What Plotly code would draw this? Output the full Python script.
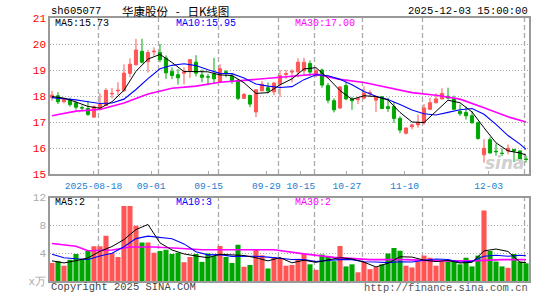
import plotly.graph_objects as go

# ---------------- data ----------------
dates = ["2025-08-06","2025-08-07","2025-08-08","2025-08-11","2025-08-12","2025-08-13","2025-08-14","2025-08-15",
         "2025-08-18","2025-08-19","2025-08-20","2025-08-21","2025-08-22","2025-08-25","2025-08-26","2025-08-27","2025-08-28","2025-08-29",
         "2025-09-01","2025-09-02","2025-09-03","2025-09-04","2025-09-05","2025-09-08","2025-09-09","2025-09-10","2025-09-11","2025-09-12",
         "2025-09-15","2025-09-16","2025-09-17","2025-09-18","2025-09-19","2025-09-22","2025-09-23","2025-09-24","2025-09-25","2025-09-26",
         "2025-09-29","2025-09-30","2025-10-09","2025-10-10","2025-10-13","2025-10-14",
         "2025-10-15","2025-10-16","2025-10-17","2025-10-20","2025-10-21","2025-10-22","2025-10-23","2025-10-24",
         "2025-10-27","2025-10-28","2025-10-29","2025-10-30","2025-10-31","2025-11-03","2025-11-04","2025-11-05","2025-11-06","2025-11-07",
         "2025-11-10","2025-11-11","2025-11-12","2025-11-13","2025-11-14","2025-11-17","2025-11-18","2025-11-19","2025-11-20","2025-11-21",
         "2025-11-24","2025-11-25","2025-11-26","2025-11-27","2025-11-28","2025-12-01","2025-12-02","2025-12-03"]

opens = [17.94,18.01,17.78,17.84,17.74,17.55,17.52,17.19,17.54,17.64,
         18.08,18.20,18.20,18.87,19.20,19.72,19.32,19.70,19.67,19.46,
         18.94,18.82,18.88,18.97,19.30,18.81,18.74,18.85,18.53,18.93,
         18.77,18.60,17.91,18.02,17.39,18.20,18.32,18.16,18.47,18.83,
         18.92,18.93,18.97,19.25,18.78,19.00,18.40,17.82,17.54,18.40,
         17.89,17.86,17.92,18.10,17.84,17.97,17.59,17.59,17.14,16.57,
         16.82,16.89,16.97,17.49,17.74,17.89,17.99,17.89,17.41,17.37,
         17.24,16.97,15.74,16.32,15.88,15.80,15.89,15.94,15.89,15.58]
highs = [18.20,18.15,17.92,17.94,17.79,17.64,17.82,17.64,18.10,18.30,
         18.31,18.53,19.22,19.45,20.20,20.20,19.77,19.87,20.00,19.56,
         19.10,19.04,19.10,19.42,19.57,19.02,18.85,19.47,19.22,19.00,
         18.85,18.66,18.12,18.05,18.26,18.57,18.52,18.52,19.00,19.00,
         19.03,19.45,19.47,19.37,19.03,19.05,18.50,17.91,18.37,18.53,
         17.97,17.97,18.37,18.22,18.02,18.00,17.94,17.78,17.22,16.79,
         16.94,17.28,17.69,17.94,18.10,18.30,18.32,18.02,17.67,17.59,
         17.42,17.02,16.34,16.42,16.17,15.99,16.14,15.97,15.91,15.71]
lows = [17.82,17.69,17.72,17.59,17.47,17.47,17.24,17.16,17.49,17.62,
        17.91,18.03,18.17,18.72,19.18,19.25,18.90,19.55,19.30,18.66,
        18.65,18.44,18.45,18.70,18.75,18.53,18.41,18.47,18.50,18.72,
        18.47,17.84,17.90,17.57,17.19,18.18,18.10,18.03,17.97,18.66,
        18.53,18.72,18.82,18.77,18.72,18.32,17.72,17.37,17.50,17.84,
        17.47,17.69,17.87,17.97,17.39,17.50,17.39,16.97,16.57,16.52,
        16.72,16.78,16.90,17.47,17.72,17.87,17.87,17.47,17.24,17.09,
        16.94,16.32,15.44,15.79,15.71,15.69,15.76,15.46,15.46,15.44]
closes = [18.03,17.78,17.87,17.67,17.57,17.54,17.29,17.59,17.69,18.22,
          18.10,18.22,18.88,19.22,19.77,19.30,19.67,19.72,19.40,18.89,
          18.79,18.70,18.92,19.40,18.88,18.72,18.73,18.66,19.05,18.91,
          18.60,17.91,18.06,17.69,18.24,18.45,18.20,18.50,18.78,18.86,
          18.94,19.30,19.30,18.92,18.97,18.42,17.84,17.47,18.35,17.89,
          17.82,17.89,18.10,18.12,17.97,17.52,17.52,17.14,16.69,16.77,
          16.89,16.99,17.54,17.74,17.89,18.10,17.92,17.49,17.32,17.24,
          16.97,16.37,15.99,15.81,15.86,15.79,15.99,15.89,15.54,15.56]
volumes = [2.6,2.85,2.2,3.05,3.9,3.15,4.3,5.0,5.0,6.5,
           4.0,3.45,10.8,10.8,7.95,5.55,5.55,4.05,4.3,4.5,
           3.9,4.05,2.7,3.45,3.9,2.75,3.95,3.6,5.05,3.45,
           2.6,5.2,2.05,2.3,4.6,3.7,1.8,3.45,3.3,2.2,
           2.3,3.2,3.95,2.4,1.6,3.8,3.45,2.85,5.05,2.1,
           2.4,1.25,2.75,1.7,2.0,2.4,3.95,4.75,4.35,2.2,
           1.95,2.85,3.65,3.35,2.2,2.75,2.8,2.8,2.4,3.35,
           2.1,3.65,10.15,4.3,2.8,2.1,1.9,3.9,2.8,2.55]

ma_idx = [0,2,4,6,8,10,12,14,16,18,20,22,24,26,28,30,32,34,36,38,
          40,42,44,46,48,50,52,54,56,58,60,62,64,66,68,70,72,74,76,78,79]
price_ma5 = [17.98,17.92,17.77,17.60,17.53,17.78,18.22,18.95,19.42,19.60,
             19.29,18.94,18.94,18.93,18.81,18.79,18.51,18.10,18.13,18.43,
             18.66,19.04,19.09,18.69,18.21,17.87,18.01,17.98,17.85,17.37,
             17.00,16.98,17.41,17.84,17.74,17.39,16.78,16.20,15.89,15.81,15.73]
price_ma10 = [17.94,17.90,17.85,17.78,17.71,17.73,17.88,18.25,18.67,19.05,
              19.18,19.24,19.17,19.01,18.87,18.86,18.69,18.46,18.38,18.33,
              18.36,18.63,18.82,18.78,18.64,18.43,18.17,17.99,17.87,17.67,
              17.46,17.32,17.27,17.37,17.47,17.52,17.30,16.91,16.48,16.15,15.95]
ma30_idx = [0,4,8,12,16,20,24,28,32,36,40,44,48,52,56,60,64,68,72,76,79]
price_ma30 = [17.24,17.42,17.48,17.73,18.08,18.30,18.38,18.53,18.60,18.69,
              18.76,18.84,18.64,18.52,18.33,18.13,18.03,17.88,17.55,17.20,17.00]
vol_ma5 = [2.9,2.6,2.92,3.32,4.27,4.96,5.95,7.4,8.13,5.48,
           4.46,3.89,3.6,3.35,3.85,3.73,3.67,3.35,2.89,3.37,
           2.61,2.99,2.69,3.04,3.35,3.17,2.71,2.02,2.56,3.49,
           3.44,3.0,2.8,2.95,2.59,2.69,4.33,4.6,4.25,2.7,2.65]
vol_ma10 = [3.85,3.35,3.2,3.1,3.6,4.0,4.92,6.1,6.46,6.3,
            6.09,5.34,4.2,3.76,3.79,3.55,3.6,3.56,3.44,3.25,
            3.09,3.08,2.79,2.97,3.08,3.08,2.77,2.74,2.65,2.77,
            2.73,2.98,3.17,3.09,2.7,2.83,3.56,3.71,3.56,3.71,3.63]
vol_ma30_idx = [0,4,6,10,13,17,21,25,30,37,42,47,53,59,64,70,75,79]
vol_ma30 = [5.4,5.0,4.35,4.45,4.9,4.9,4.7,4.5,4.5,4.5,3.9,3.4,3.07,3.07,2.9,2.9,3.07,3.07]

tick_dates = ["2025-08-18","2025-09-01","2025-09-15","2025-09-29","2025-10-15","2025-10-27","2025-11-10","2025-12-03"]
tick_labels = ["2025-08-18","09-01","09-15","09-29","10-15","10-27","11-10","12-03"]
price_ticks = [15,16,17,18,19,20,21]
vol_ticks = [0,4,8,12]
vol_tick_text = ["x万","4","8","12"]

# ---------------- styling ----------------
RED = "#ff5555"
GREEN = "#00a600"
GRID = "#aaaaaa"
FRAME = "#999999"
MONO = "Liberation Mono, DejaVu Sans Mono, monospace"
CJK = "Noto Sans CJK SC, sans-serif"

W, H = 545, 300
ML, MR, MT, MB = 50, 16, 18, 14
PW, PH = W - ML - MR, H - MT - MB


def px(x):
    return (x - ML) / PW


def py(y):
    return (H - MB - y) / PH


price_dom = [py(177), 1.0]
vol_dom = [0.0, py(201)]

bar_colors = [RED if c >= o else GREEN for o, c in zip(opens, closes)]

fig = go.Figure()

fig.add_trace(go.Candlestick(
    x=dates, open=opens, high=highs, low=lows, close=closes,
    increasing=dict(line=dict(color=RED, width=1), fillcolor=RED),
    decreasing=dict(line=dict(color=GREEN, width=1), fillcolor=GREEN),
    whiskerwidth=0, xaxis="x", yaxis="y", hoverinfo="skip"))


def line(idx, vals, color, width, xa, ya):
    fig.add_trace(go.Scatter(x=[dates[i] for i in idx], y=vals, mode="lines",
                             line=dict(color=color, width=width),
                             xaxis=xa, yaxis=ya, hoverinfo="skip"))


line(ma30_idx, price_ma30, "#ff00ff", 1.6, "x", "y")
line(ma_idx, price_ma10, "#0000ff", 1.1, "x", "y")
line(ma_idx, price_ma5, "#000000", 1.0, "x", "y")

fig.add_trace(go.Bar(x=dates, y=volumes, marker=dict(color=bar_colors, line=dict(width=0)),
                     xaxis="x2", yaxis="y2", hoverinfo="skip"))
line(vol_ma30_idx, vol_ma30, "#ff00ff", 1.6, "x2", "y2")
line(ma_idx, vol_ma10, "#0000ff", 1.1, "x2", "y2")
line(ma_idx, vol_ma5, "#000000", 1.0, "x2", "y2")

# date label axis (labels are spaced on their own scale in the original)
label_vals = [dates.index(d) for d in tick_dates]
label_vals[-1] = 76.6
# empty carrier so the label axis is drawn
fig.add_trace(go.Scatter(x=label_vals, y=[None] * len(label_vals), mode="markers",
                         xaxis="x3", yaxis="y", hoverinfo="skip", showlegend=False))

xrange = [-0.33, len(dates) - 0.5]
axis_common = dict(showline=True, linecolor=FRAME, linewidth=1.5, mirror=True,
                   zeroline=False, fixedrange=True)

# vertical dashed grid lines at the labelled dates
shapes = []
for d in tick_dates:
    i = dates.index(d) - 0.25
    for xr, yr in (("x", "y domain"), ("x2", "y2 domain")):
        shapes.append(dict(type="line", xref=xr, yref=yr, x0=i, x1=i, y0=0, y1=1,
                           line=dict(color=GRID, width=1.3, dash="5px,3px"), layer="below"))

fig.update_layout(
    width=W, height=H, margin=dict(l=ML, r=MR, t=MT, b=MB),
    paper_bgcolor="white", plot_bgcolor="white", showlegend=False,
    font=dict(family=MONO, size=10, color="black"),
    boxgap=0.25, bargap=0.15,
    xaxis=dict(domain=[0, 1], anchor="y", type="category", range=xrange,
               showticklabels=False, ticks="", showgrid=False,
               rangeslider=dict(visible=False), **axis_common),
    xaxis3=dict(overlaying="x", anchor="y", side="bottom", range=[0.45, 83.6],
                type="linear", tickmode="array",
                tickvals=label_vals, ticktext=tick_labels, ticks="inside", ticklen=3,
                ticklabelstandoff=4,
                tickcolor=GRID, showgrid=False, showline=False, zeroline=False,
                tickfont=dict(family=MONO, size=9.6, color="#1a7fd4"), fixedrange=True),
    yaxis=dict(domain=price_dom, anchor="x", range=[15, 21], tickvals=price_ticks,
               ticks="", showgrid=True, gridcolor=GRID, griddash="1px,2px", gridwidth=1,
               tickfont=dict(family=MONO, size=11, color="#ff0000"), **axis_common),
    xaxis2=dict(domain=[0, 1], anchor="y2", type="category", range=xrange,
                showticklabels=False, ticks="", showgrid=False, **axis_common),
    yaxis2=dict(domain=vol_dom, anchor="x2", range=[0, 12], tickvals=vol_ticks,
                ticktext=vol_tick_text, ticks="", showgrid=True, gridcolor=GRID,
                griddash="1px,2px", gridwidth=1,
                tickfont=dict(family=MONO, size=11, color="#aaaaaa"), **axis_common),
    shapes=shapes,
)


def text(x, y, s, color="black", xanchor="left", size=10, family=MONO, **kw):
    fig.add_annotation(x=px(x), y=py(y), xref="paper", yref="paper", text=s,
                       showarrow=False, xanchor=xanchor, yanchor="middle",
                       font=dict(family=family, size=size, color=color, **kw))


NB = "\u00a0"
text(49, 11, "sh605077", size=10.5)
text(120, 11, "华康股份" + NB * 3 + "-" + NB * 3 + "日K线图", size=11.5, family=CJK)
text(530, 11, "2025-12-03 15:00:00", xanchor="right", size=10.5)
text(53, 24, "MA5:15.73")
text(174, 24, "MA10:15.95", color="#0000ff")
text(293, 24, "MA30:17.00", color="#ff00ff")
text(53, 206, "MA5:2")
text(174, 206, "MA10:3", color="#0000ff")
text(293, 206, "MA30:2", color="#ff00ff")
text(49, 292, "Copyright 2025 SINA.COM", color="#444444", size=10.5)
text(530, 293, "http://finance.sina.com.cn", color="#555555", xanchor="right", size=10.5)
# faint watermark
text(527, 166, "<b><i>sina</i></b>", color="#d0d0d0", xanchor="right", size=17,
     family="DejaVu Sans, sans-serif")

fig.write_html("out.html", config={"displayModeBar": False})
